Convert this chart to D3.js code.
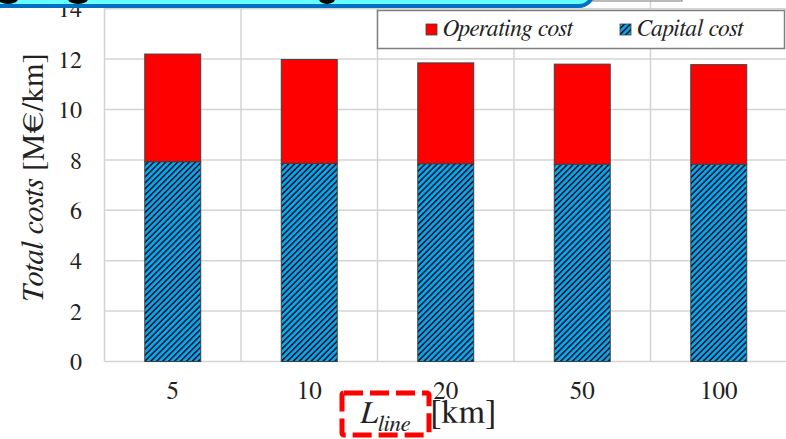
<!DOCTYPE html>
<html><head><meta charset="utf-8">
<script src="https://cdn.jsdelivr.net/npm/d3@7"></script>
<style>html,body{margin:0;padding:0;background:#fff;}svg{display:block;}
.serif{font-family:FreeSerif,"Liberation Serif","Times New Roman",serif;}</style>
</head><body>
<svg id="c" width="786" height="439"></svg>
<script>
const categories = ["5", "10", "20", "50", "100"];
const capitalCost = [7.93, 7.86, 7.85, 7.83, 7.83];
const operatingCost = [4.27, 4.12, 4.0, 3.97, 3.95];
const yTicks = [0, 2, 4, 6, 8, 10, 12, 14];
const seriesNames = ["Operating cost", "Capital cost"];

const svg = d3.select("#c");
const plot = {left: 104.5, right: 787, top: 8.7, bottom: 361.5};

const defs = svg.append("defs");
const pat = defs.append("pattern").attr("id", "hatch").attr("patternUnits", "userSpaceOnUse")
  .attr("width", 4.2).attr("height", 4.2).attr("patternTransform", "rotate(45)");
pat.append("rect").attr("width", 4.2).attr("height", 4.2).attr("fill", "#0aa8e8");
pat.append("rect").attr("x", 0).attr("width", 1.7).attr("height", 4.2).attr("fill", "#0b1f3f");

const x = d3.scaleBand().domain(categories).range([plot.left, plot.right]).paddingInner(0.59).paddingOuter(0.295);
const y = d3.scaleLinear().domain([0, 14]).range([plot.bottom, plot.top]);
const step = x.step();

// grid
const g = svg.append("g");
g.selectAll(".hg").data(yTicks).join("line")
  .attr("x1", plot.left).attr("x2", plot.right)
  .attr("y1", d => y(d)).attr("y2", d => y(d))
  .attr("stroke", "#d4d4d4").attr("stroke-width", 1.5);
const bounds = categories.map(c => x(c) + x.bandwidth() / 2 - step / 2);
g.selectAll(".vg").data(bounds).join("line")
  .attr("x1", d => d).attr("x2", d => d)
  .attr("y1", plot.top - 10).attr("y2", plot.bottom)
  .attr("stroke", "#d4d4d4").attr("stroke-width", 1.5);

// bars
const stackData = categories.map((c, i) => ({cat: c, cap: capitalCost[i], op: operatingCost[i]}));
const bars = svg.append("g");
bars.selectAll(".cap").data(stackData).join("rect")
  .attr("x", d => x(d.cat)).attr("width", x.bandwidth())
  .attr("y", d => y(d.cap)).attr("height", d => y(0) - y(d.cap))
  .attr("fill", "url(#hatch)").attr("stroke", "#404040").attr("stroke-width", 1);
bars.selectAll(".op").data(stackData).join("rect")
  .attr("x", d => x(d.cat)).attr("width", x.bandwidth())
  .attr("y", d => y(d.cap + d.op)).attr("height", d => y(d.cap) - y(d.cap + d.op))
  .attr("fill", "#ff0000").attr("stroke", "#404040").attr("stroke-width", 1);

// y axis labels
const yAxis = d3.axisLeft(y).tickValues(yTicks).tickSize(0).tickPadding(0);
const ya = svg.append("g").attr("transform", "translate(82,0)").call(yAxis);
ya.attr("font-family", null).attr("font-size", null);
ya.select(".domain").remove();
ya.selectAll("text").attr("class", "serif").attr("font-size", 24).attr("fill", "#222").attr("dy", "0.34em");

// x axis labels
const xAxis = d3.axisBottom(x).tickSize(0).tickPadding(0);
const xa = svg.append("g").attr("transform", "translate(0,399)").call(xAxis);
xa.attr("font-family", null).attr("font-size", null);
xa.select(".domain").remove();
xa.selectAll("text").attr("class", "serif").attr("font-size", 25).attr("fill", "#222").attr("dy", 0);

// y title
const yt = svg.append("text").attr("class", "serif").attr("transform", "translate(43,178) rotate(-90)")
  .attr("text-anchor", "middle").attr("font-size", 30.5).attr("fill", "#222");
yt.append("tspan").attr("font-style", "italic").text("Total costs");
yt.append("tspan").text(" [M€/km]");

// x title
const xt = svg.append("text").attr("class", "serif").attr("fill", "#222");
xt.append("tspan").attr("x", 360).attr("y", 423).attr("font-size", 32).attr("font-style", "italic").text("L");
xt.append("tspan").attr("x", 378).attr("y", 431).attr("font-size", 23).attr("font-style", "italic").text("line");
xt.append("tspan").attr("x", 430).attr("y", 423).attr("font-size", 34).text("[km]");

// red dashed highlight box
svg.append("rect").attr("x", 342).attr("y", 393).attr("width", 87).attr("height", 42).attr("rx", 2)
  .attr("fill", "none").attr("stroke", "#ff0000").attr("stroke-width", 5).attr("stroke-dasharray", "19,7");

// legend
const lg = svg.append("g");
lg.append("rect").attr("x", 377.5).attr("y", 10.5).attr("width", 407).attr("height", 38)
  .attr("fill", "#fff").attr("stroke", "#7f7f7f").attr("stroke-width", 1.5);
const legendItems = [{name: seriesNames[0], fill: "#ff0000", x: 426}, {name: seriesNames[1], fill: "url(#hatch)", x: 620}];
legendItems.forEach(it => {
  lg.append("rect").attr("x", it.x).attr("y", 24).attr("width", 11).attr("height", 11)
    .attr("fill", it.fill).attr("stroke", "#404040").attr("stroke-width", 0.8);
  lg.append("text").attr("class", "serif").attr("x", it.x + 17).attr("y", 36).attr("font-style", "italic")
    .attr("font-size", 23.5).attr("fill", "#222").text(it.name);
});

// top banner (cropped overlay)
svg.append("rect").attr("x", 593).attr("y", -20).attr("width", 89).attr("height", 21)
  .attr("fill", "#fff").attr("stroke", "#8c8c8c").attr("stroke-width", 1.2);
svg.append("rect").attr("x", -20).attr("y", -40).attr("width", 613).attr("height", 46).attr("rx", 14)
  .attr("fill", "#66ffff").attr("stroke", "#0070c0").attr("stroke-width", 4);
const blobs = [{cx: 8, rx: 10}, {cx: 78, rx: 10}, {cx: 327, rx: 8}];
svg.selectAll(".blob").data(blobs).join("ellipse")
  .attr("cx", d => d.cx).attr("cy", -1).attr("rx", d => d.rx).attr("ry", 5).attr("fill", "#000");
</script>
</body></html>
